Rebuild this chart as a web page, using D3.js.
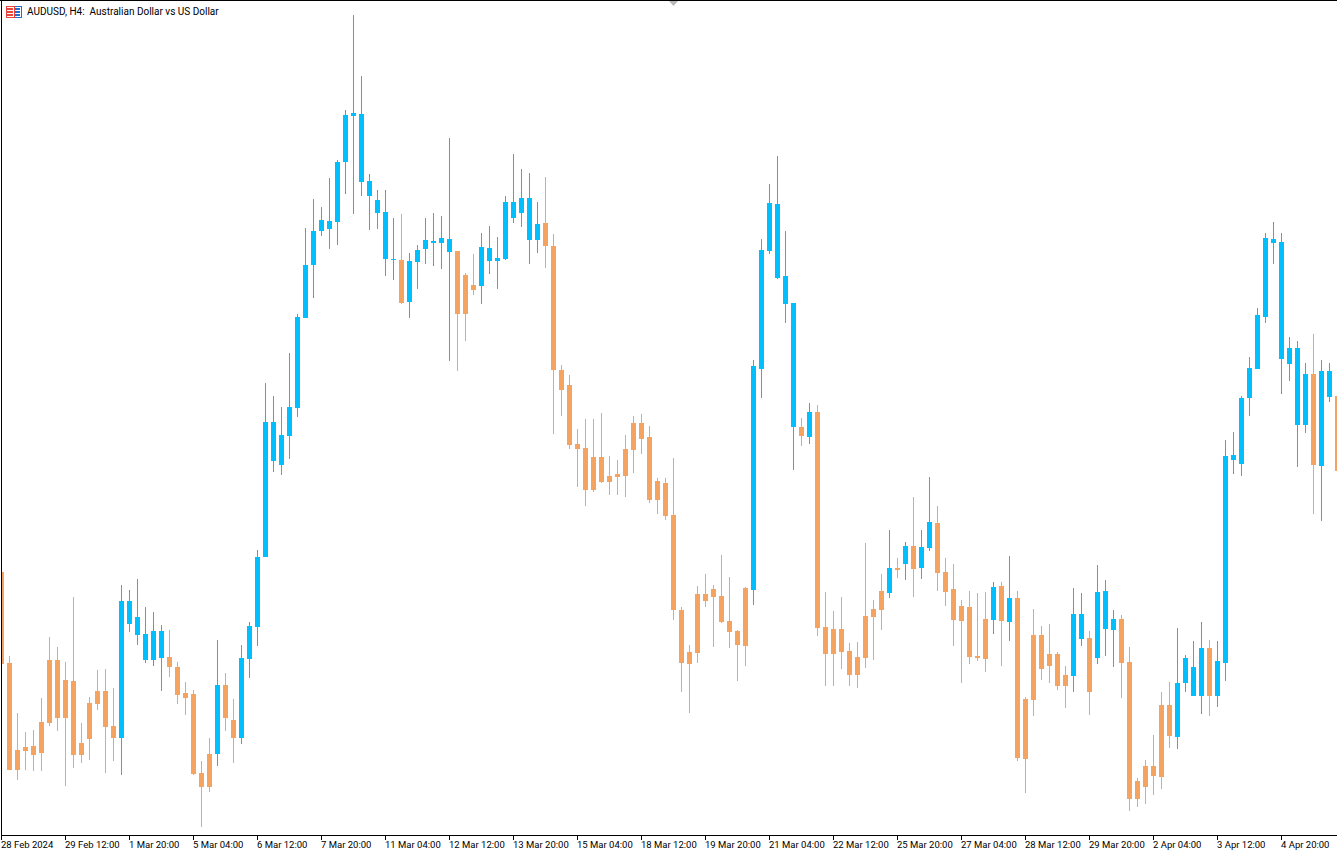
<!DOCTYPE html>
<html>
<head>
<meta charset="utf-8">
<style>
html,body{margin:0;padding:0;background:#fff;overflow:hidden}
svg{display:block}
text{font-family:Roboto,sans-serif;fill:#000}
</style>
<script src="https://cdnjs.cloudflare.com/ajax/libs/d3/7.8.5/d3.min.js"></script>
</head>
<body>
<script>
const title = "AUDUSD, H4:  Australian Dollar vs US Dollar";
const tickLabels = ["28 Feb 2024","29 Feb 12:00","1 Mar 20:00","5 Mar 04:00","6 Mar 12:00","7 Mar 20:00","11 Mar 04:00","12 Mar 12:00","13 Mar 20:00","15 Mar 04:00","18 Mar 12:00","19 Mar 20:00","21 Mar 04:00","22 Mar 12:00","25 Mar 20:00","27 Mar 04:00","28 Mar 12:00","29 Mar 20:00","2 Apr 04:00","3 Apr 12:00","4 Apr 20:00"];
// Prices in points (1 point = 0.00001)
const opens = [65510,65328,65154,65160,65162,65210,65334,65334,65294,65292,65168,65248,65272,65272,65202,
65178,65406,65384,65334,65334,65338,
65340,65320,65268,65266,65108,65146,
65146,
65284,65214,
65178,65336,65400,65540,65732,65724,65782,65838,66018,66124,66192,66196,66210,66330,66422,66290,66262,66228,66136,66134,
66134,
66050,66130,66156,66168,66168,66150,
66152,66104,66084,
66082,66132,66132,66136,66218,66228,66174,66174,
66208,66162,65914,65884,65766,65758,65740,65740,65702,65706,65756,65808,65808,65780,65692,65688,65624,65434,65350,65466,65466,65476,65462,65412,65392,65478,
65474,65916,66152,66098,66046,65800,
65800,
65780,
65830,65400,65396,65396,65352,65340,65422,65436,65472,
65468,
65518,
65526,
65562,
65518,65558,
65608,65510,65476,65442,65440,65342,65416,
65414,
65482,
65410,
65458,65256,65384,65384,65346,65346,65304,
65302,65376,
65378,
65338,65396,65394,
65416,65330,65092,65122,65122,65244,65244,
65180,65288,65262,65262,
65358,
65262,65328,65734,65726,65858,65916,66020,66168,65936,65926,65804,65804,
65906,
65722,65860,
65862];
const closes = [65326,65114,65114,65152,65144,65148,65208,65218,65218,65144,65144,65176,65246,65200,65178,
65452,65452,65420,65386,65392,65392,
65320,65264,65258,65106,65080,65080,
65284,
65218,65178,
65338,65402,65540,65810,65810,65784,65840,66020,66124,66192,66214,66212,66330,66424,66428,66426,66292,66254,66230,66136,
66048,
66132,66154,66174,66172,66178,66176,
66026,66026,66074,
66160,66158,66138,66250,66250,66258,66258,66206,
66162,65914,65874,65764,65756,65674,65674,65690,65690,65700,65702,65754,65776,65654,65654,65622,65434,65328,65326,65348,65452,65460,65410,65390,65364,65362,
65922,66154,66248,66246,66102,66048,
65782,
65830,
65398,65346,65346,65350,65304,65304,65338,65420,65434,
65518,
65514,
65562,
65516,
65560,65610,
65508,65470,65414,65412,65340,65338,65336,
65480,
65412,
65458,
65138,65136,65254,65316,65322,65282,65282,
65426,65426,
65270,
65470,65472,65416,
65328,65056,65056,65080,65102,65100,65182,
65288,65338,65320,65358,
65262,
65332,65742,65744,65858,65918,66024,66178,66176,66170,65958,65958,65906,
65724,
65912,65912,
65712];
const highs = [65510,65342,65228,65190,65194,65258,65380,65360,65330,65460,65208,65260,65314,65316,65278,
65484,65474,65496,65440,65430,65404,65394,65330,65290,65274,65132,65178,65374,65308,65256,
65364,65410,65554,65888,65862,65840,65948,66026,66198,66256,66240,66298,66334,66434,66624,66502,66306,66274,66274,66218,
66226,66148,66164,66218,66228,66222,66378,66152,66108,66146,66188,66202,66180,66262,66346,66316,66308,66250,66300,66186,
65924,65904,65796,65816,65816,65828,65742,65734,65784,65822,65826,65802,65698,65698,65738,65440,65364,65482,65506,65484,
65544,65500,65394,65480,65934,66176,66286,66342,66192,66048,65818,65848,65844,65470,65432,65460,65368,65370,65568,65454,
65506,65594,65538,65570,65660,65594,65700,65642,65538,65526,65454,65472,65468,65470,65490,65490,65542,65472,65260,65436,
65402,65406,65350,65322,65478,65468,65392,65524,65494,65434,65424,65360,65098,65134,65184,65270,65290,65398,65344,65372,
65410,65374,65372,65774,65790,65862,65940,66038,66188,66210,66188,65980,65972,65928,65986,65934,65928,65862];
const lows = [65326,65114,65094,65114,65112,65112,65202,65192,65082,65118,65128,65134,65234,65108,65132,
65104,65390,65364,65328,65322,65272,65300,65246,65224,65104,65000,65070,65122,65192,65128,
65166,65298,65362,65540,65710,65704,65736,65820,66018,66058,66182,66156,66164,66266,66226,66262,66194,66196,66102,66094,
66046,66018,66076,66126,66122,66116,65932,65912,65972,66064,66046,66106,66076,66134,66208,66200,66126,66148,66118,65786,
65822,65756,65680,65642,65670,65688,65664,65664,65660,65708,65746,65648,65626,65614,65414,65270,65228,65328,65440,65360,
65408,65358,65292,65322,65444,65858,66146,66096,66008,65714,65762,65766,65382,65282,65282,65316,65282,65278,65318,65334,
65394,65458,65498,65494,65460,65496,65552,65472,65442,65362,65288,65326,65332,65310,65386,65322,65372,65132,65068,65222,
65294,65288,65274,65238,65270,65362,65224,65326,65342,65320,65258,65032,65040,65046,65064,65076,65158,65156,65270,65262,
65226,65222,65240,65292,65706,65702,65822,65916,66008,66126,65866,65892,65720,65788,65626,65612,65850,65712];

const width = 1337, height = 851;
const upColor = "#00BFFF", downColor = "#F4A460";
const axisY = 835, bodyW = 5;

const x = d3.scaleLinear().domain([0, 167]).range([1.5, 1337.5]);
const y = d3.scaleLinear().domain([65000, 66624]).range([827, 15]);

const svg = d3.select("body").append("svg").attr("width", width).attr("height", height);
svg.append("defs").append("clipPath").attr("id","plot").append("rect")
  .attr("x",2).attr("y",1).attr("width",width-2).attr("height",axisY-1);

const candles = opens.map((o,i)=>({i,o,c:closes[i],h:highs[i],l:lows[i]}));
const color = d => d.c >= d.o ? upColor : downColor;

const plot = svg.append("g").attr("clip-path","url(#plot)").attr("shape-rendering","crispEdges");
const g = plot.selectAll("g").data(candles).join("g").attr("fill",color);
g.append("rect").attr("x",d=>x(d.i)-0.5).attr("width",1)
  .attr("y",d=>y(d.h)).attr("height",d=>y(d.l)-y(d.h));
g.append("rect").attr("x",d=>x(d.i)-bodyW/2).attr("width",bodyW)
  .attr("y",d=>y(Math.max(d.o,d.c))).attr("height",d=>Math.max(1,Math.abs(y(d.o)-y(d.c))));

// frame
const frame = svg.append("g").attr("shape-rendering","crispEdges");
frame.append("rect").attr("x",0).attr("y",0).attr("width",width).attr("height",1).attr("fill","#000");
frame.append("rect").attr("x",1).attr("y",0).attr("width",1).attr("height",axisY).attr("fill","#000");

// time axis
const tickIdx = tickLabels.map((_,k)=>k*8);
const axis = d3.axisBottom(x).tickValues(tickIdx).tickFormat((d,k)=>tickLabels[k]).tickSize(4).tickSizeOuter(0).offset(0);
const ax = svg.append("g").attr("transform",`translate(0,${axisY})`).call(axis);
ax.select(".domain").remove();
ax.selectAll("line").attr("stroke","#000").attr("shape-rendering","crispEdges").attr("transform","translate(0,0.5)");
ax.append("rect").attr("x",1).attr("y",0).attr("width",width).attr("height",1).attr("fill","#000").attr("shape-rendering","crispEdges");
ax.selectAll("text").attr("text-anchor","start").attr("x",-0.5).attr("y",13).attr("dy",null)
  .style("font-family","Roboto,sans-serif").style("font-size","9.5px").attr("fill","#000");

// header
const head = svg.append("g");
const icon = head.append("g").attr("shape-rendering","crispEdges");
icon.append("rect").attr("x",6).attr("y",6).attr("width",15).attr("height",11).attr("fill","#fff").attr("stroke","#1E6FD0");
icon.append("rect").attr("x",6).attr("y",6).attr("width",8).attr("height",11).attr("fill","#fff").attr("stroke","#E8453C");
[8,11,14].forEach(s=>{
  icon.append("rect").attr("x",7).attr("y",s).attr("width",6).attr("height",2).attr("fill","#E8453C");
  icon.append("rect").attr("x",15).attr("y",s).attr("width",5).attr("height",2).attr("fill","#1E6FD0");
});
head.append("text").attr("x",27).attr("y",15).style("font-size","10px").style("white-space","pre").text(title);

// top marker
svg.append("path").attr("d","M669,1L678,1L673.5,6Z").attr("fill","#b8b8b8");
</script>
</body>
</html>
